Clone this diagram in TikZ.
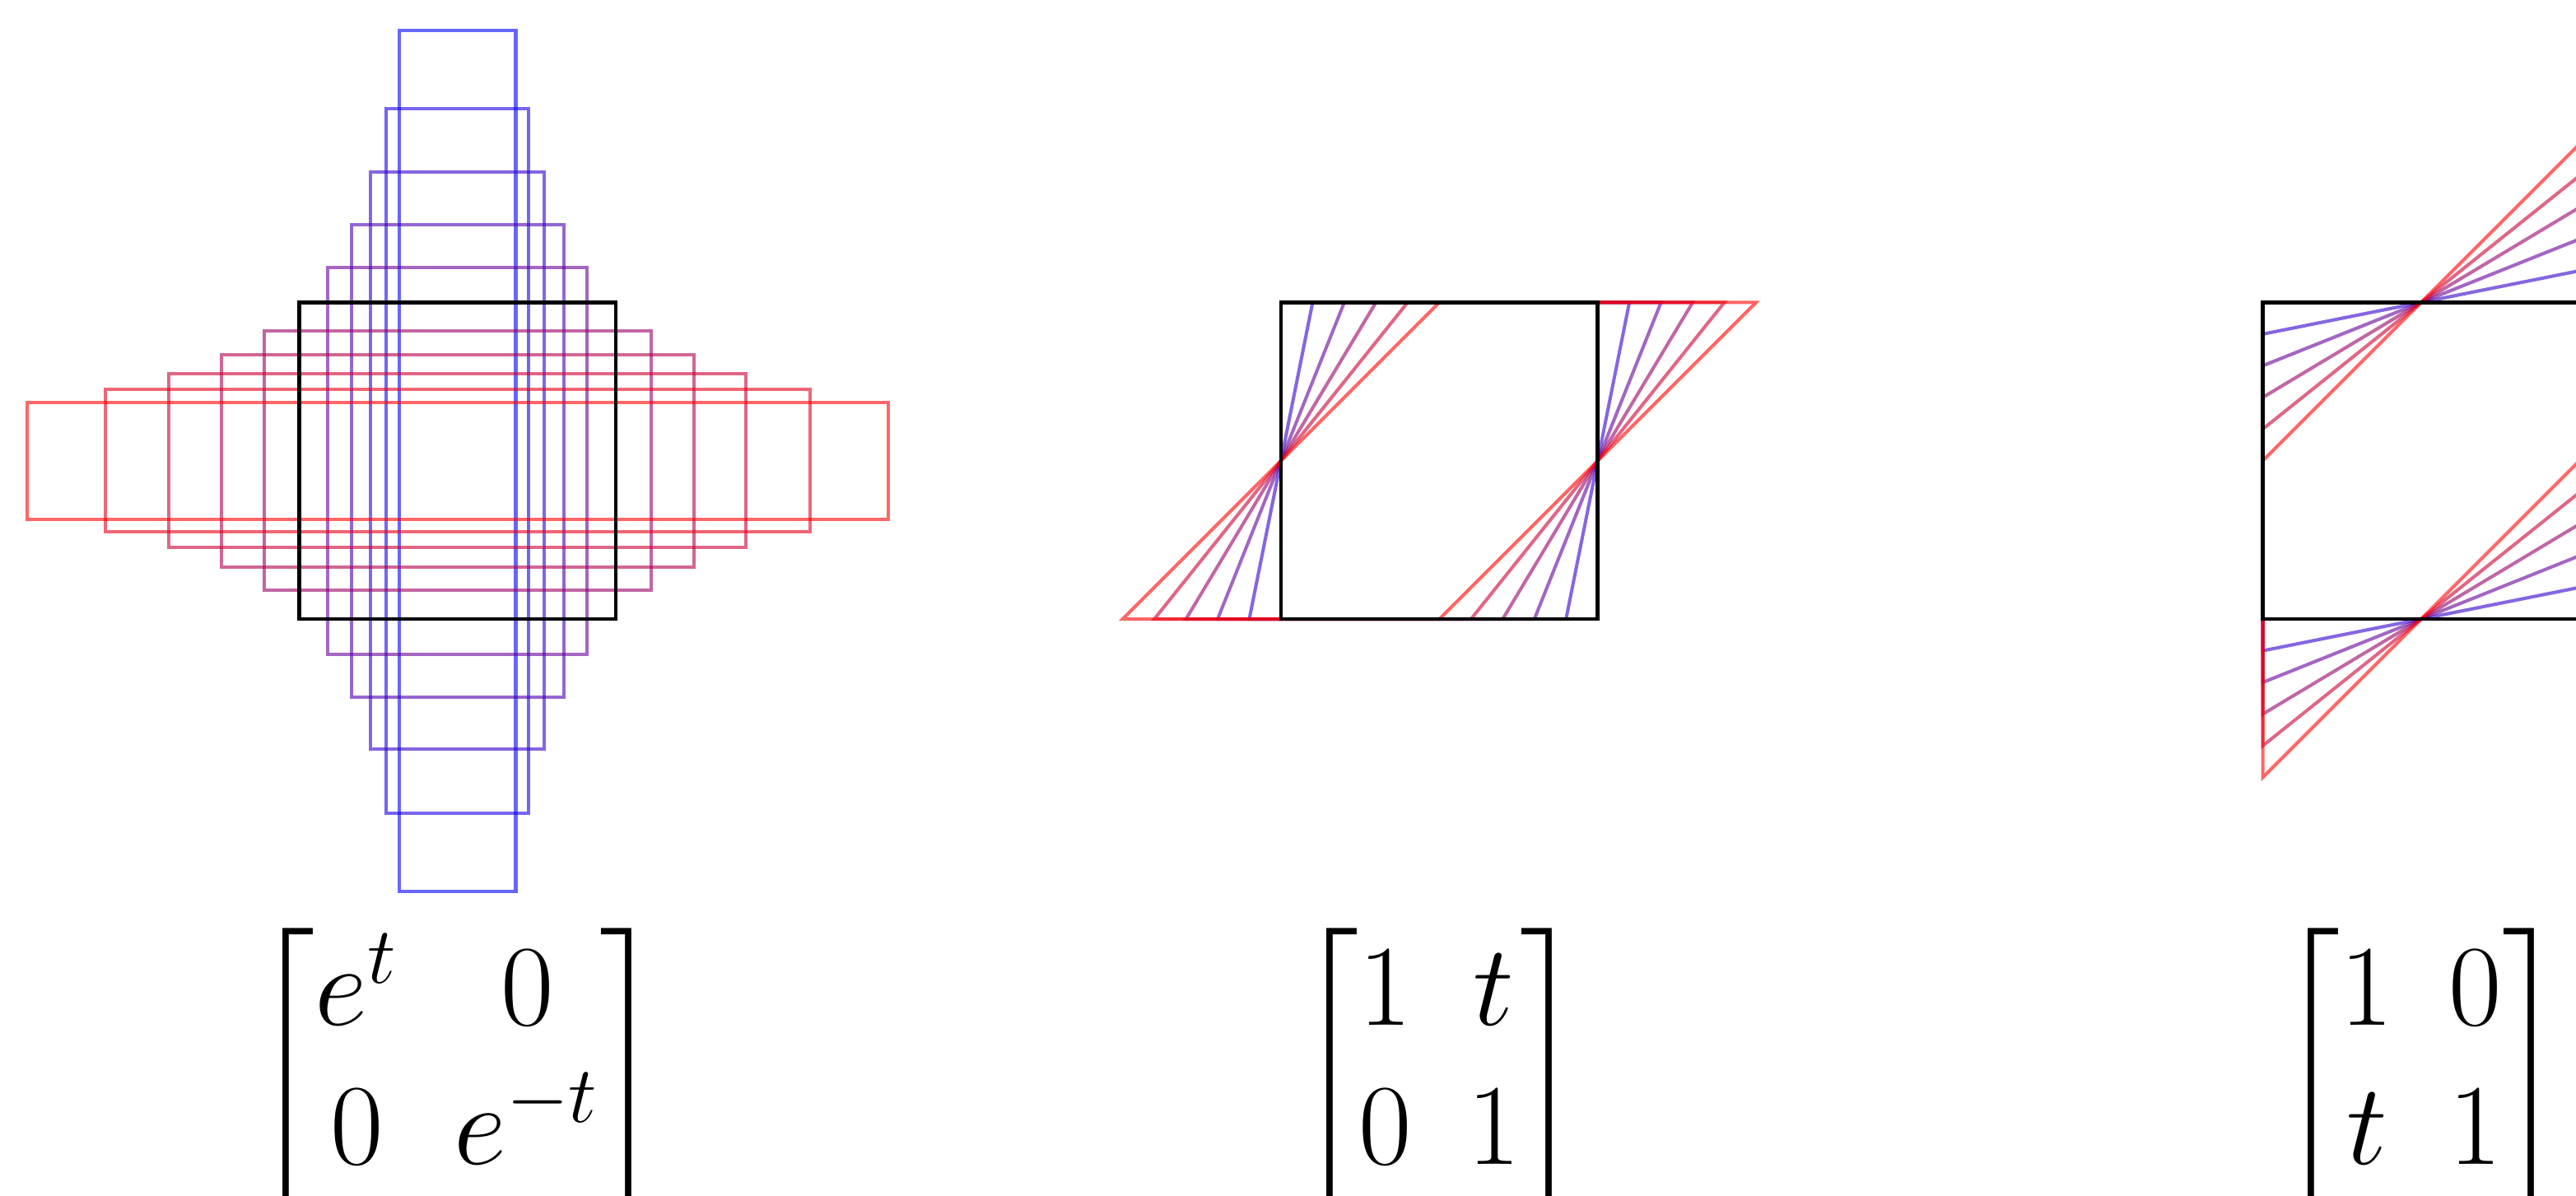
\documentclass[tikz,border=0pt]{standalone}
\usepackage{amsmath}
\usepackage{tikz}
\usetikzlibrary{positioning}
\definecolor{myred}{RGB}{255,0,0}
\definecolor{myblue}{RGB}{0,0,255}
\tikzset{
  unitbox/.style={draw=black, line width=0.7pt},
  flowbox/.style={line width=0.6pt, draw opacity=0.6},
  matlabel/.style={font=\huge, anchor=base, inner sep=0pt}
}

\begin{document}
\begin{tikzpicture}
  \clip (-2.889,-4.639) rectangle (13.378,2.910);

  % Scaling
  \foreach \k in {-5,-4,-3,-2,-1,1,2,3,4,5} {
    \pgfmathsetmacro{\a}{exp(\k/5)}
    \pgfmathsetmacro{\b}{1/exp(\k/5)}
    \pgfmathtruncatemacro{\p}{10*(\k+5)}
    \draw[flowbox, myred!\p!myblue] (-\a,-\b) rectangle (\a,\b);
  }
  \draw[unitbox] (-1,-1) rectangle (1,1);
  \node[matlabel] (scalemat) at (0,-4.01) {$\begin{bmatrix} e^t & 0 \\ 0 & e^{-t} \end{bmatrix}$};

  % Shear in x
  \begin{scope}[xshift=6.2cm]
    \foreach \k in {1,...,5} {
      \pgfmathsetmacro{\s}{\k/5}
      \pgfmathtruncatemacro{\p}{20*\k}
      \draw[flowbox, myred!\p!myblue] (-1-\s,-1) -- (1-\s,-1) -- (1+\s,1) -- (-1+\s,1) -- cycle;
    }
    \draw[unitbox] (-1,-1) rectangle (1,1);
    \node[matlabel] (shearx) at (0,-4.01) {$\begin{bmatrix} 1 & t \\ 0 & 1 \end{bmatrix}$};
  \end{scope}

  % Shear in y
  \begin{scope}[xshift=12.4cm]
    \foreach \k in {1,...,5} {
      \pgfmathsetmacro{\s}{\k/5}
      \pgfmathtruncatemacro{\p}{20*\k}
      \draw[flowbox, myred!\p!myblue] (-1,-1-\s) -- (1,-1+\s) -- (1,1+\s) -- (-1,1-\s) -- cycle;
    }
    \draw[unitbox] (-1,-1) rectangle (1,1);
    \node[matlabel] (sheary) at (0,-4.01) {$\begin{bmatrix} 1 & 0 \\ t & 1 \end{bmatrix}$};
  \end{scope}
\end{tikzpicture}
\end{document}
